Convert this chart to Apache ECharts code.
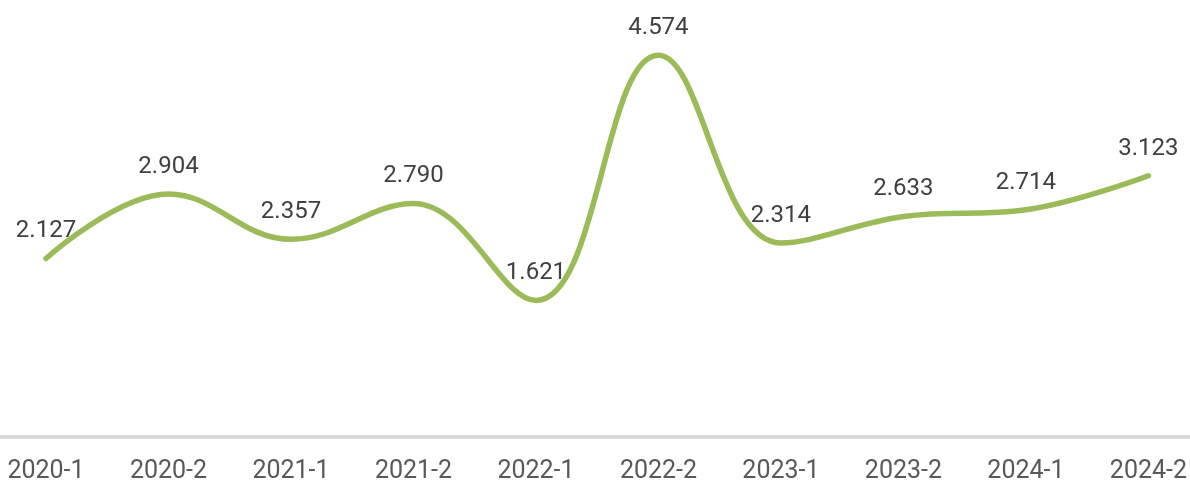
<!DOCTYPE html>
<html><head><meta charset="utf-8">
<script src="https://cdn.jsdelivr.net/npm/echarts@6/dist/echarts.min.js"></script>
<style>html,body{margin:0;padding:0;background:#fff;}#c{width:1190px;height:484px;}</style>
</head><body><div id="c"></div>
<script>
var categories = ['2020-1','2020-2','2021-1','2021-2','2022-1','2022-2','2023-1','2023-2','2024-1','2024-2'];
var values = [2.127, 2.904, 2.357, 2.790, 1.621, 4.574, 2.314, 2.633, 2.714, 3.123];
var chart = echarts.init(document.getElementById('c'));
chart.setOption({
  animation: false,
  grid: [
    {left: 46, right: 37, top: 20, bottom: 47},
    {left: 0, right: 0, top: 20, bottom: 47}
  ],
  xAxis: [{
    gridIndex: 0, type: 'category', data: categories, boundaryGap: false,
    axisLine: {show: false},
    axisTick: {show: false},
    axisLabel: {color: '#595959', fontSize: 25, fontFamily: 'Roboto', margin: 24}
  }, {
    gridIndex: 1, type: 'category', data: categories, boundaryGap: false,
    axisLine: {show: true, lineStyle: {color: '#d9d9d9', width: 4}},
    axisTick: {show: false}, axisLabel: {show: false}
  }],
  yAxis: [
    {gridIndex: 0, type: 'value', min: 0, max: 5, show: false, splitLine: {show: false}},
    {gridIndex: 1, type: 'value', min: 0, max: 5, show: false, splitLine: {show: false}}
  ],
  series: [{
    type: 'line', xAxisIndex: 0, yAxisIndex: 0, data: values, smooth: 0.4,
    symbol: 'circle', symbolSize: 2, showSymbol: true,
    itemStyle: {color: 'rgba(0,0,0,0)'},
    lineStyle: {color: '#9bbb59', width: 5.5, cap: 'round'},
    label: {show: true, position: 'top', distance: 14, color: '#404040', fontSize: 24, fontFamily: 'Roboto',
      formatter: function(p){ return p.value.toFixed(3); }}
  }]
});
</script></body></html>
